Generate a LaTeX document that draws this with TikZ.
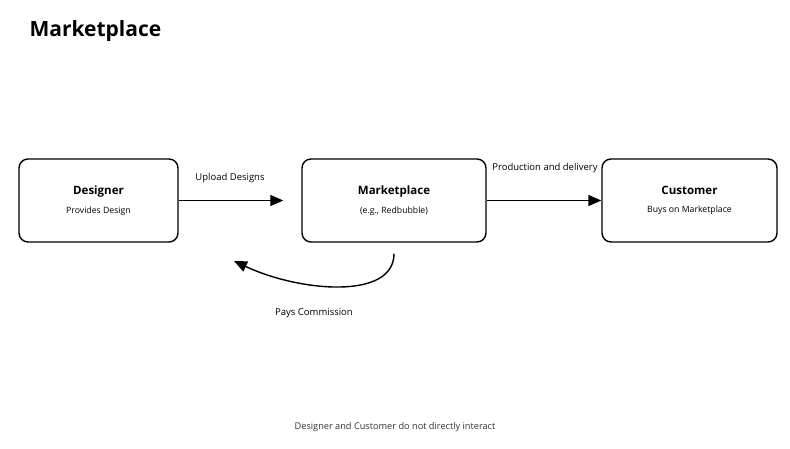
\documentclass[tikz,border=0pt]{standalone}
\usepackage{fontspec}
\setmainfont{Open Sans}
\usepackage{tikz}
\usetikzlibrary{arrows.meta,positioning}

\tikzset{
	party/.style={draw,line width=1.4pt,rounded corners=9pt,minimum width=#1,minimum height=83pt,align=center,inner sep=0pt},
	flowlabel/.style={font=\fontsize{9.5}{11}\selectfont},
}
\newcommand{\boxtitle}[1]{{\fontsize{11.5}{13}\selectfont\bfseries #1}}
\newcommand{\boxsub}[1]{{\fontsize{8.7}{10}\selectfont #1}}

\begin{document}
\begin{tikzpicture}[x=1pt,y=-1pt,>={Triangle[length=13pt,width=11pt]}]
	\useasboundingbox (0,0) rectangle (790,449);
	\node[anchor=west,font=\fontsize{21}{24}\selectfont\bfseries] (title) at (26,31) {Marketplace};

	\node[party=159pt] (designer) at (98.5,200.5) {\boxtitle{Designer}\\[6.5pt]\boxsub{Provides Design}};
	\node[party=184pt] (market) at (394,200.5) {\boxtitle{Marketplace}\\[6.5pt]\boxsub{(e.g., Redbubble)}};
	\node[party=175pt] (customer) at (689.5,200.5) {\boxtitle{Customer}\\[6.5pt]\boxsub{Buys on Marketplace}};

	\draw[->,line width=1.4pt,shorten >=18pt] (designer.east) -- (market.west);
	\node[flowlabel] (upload) at (230,178) {Upload Designs};
	\draw[->,line width=1.4pt] (market.east) -- (customer.west);
	\node[flowlabel] (prod) at (545,168) {Production and delivery};

	% commission flows back
	\coordinate (paystart) at ([yshift=-11pt]market.south);
	\coordinate (payend) at (234,261);
	\draw[->,line width=1.4pt] (paystart) .. controls (394,300) and (300,292) .. (payend);
	\node[flowlabel] (pays) at (314,313) {Pays Commission};

	\node[font=\fontsize{9.2}{10}\selectfont,text=black!80] (note) at (395,427) {Designer and Customer do not directly interact};
\end{tikzpicture}
\end{document}
